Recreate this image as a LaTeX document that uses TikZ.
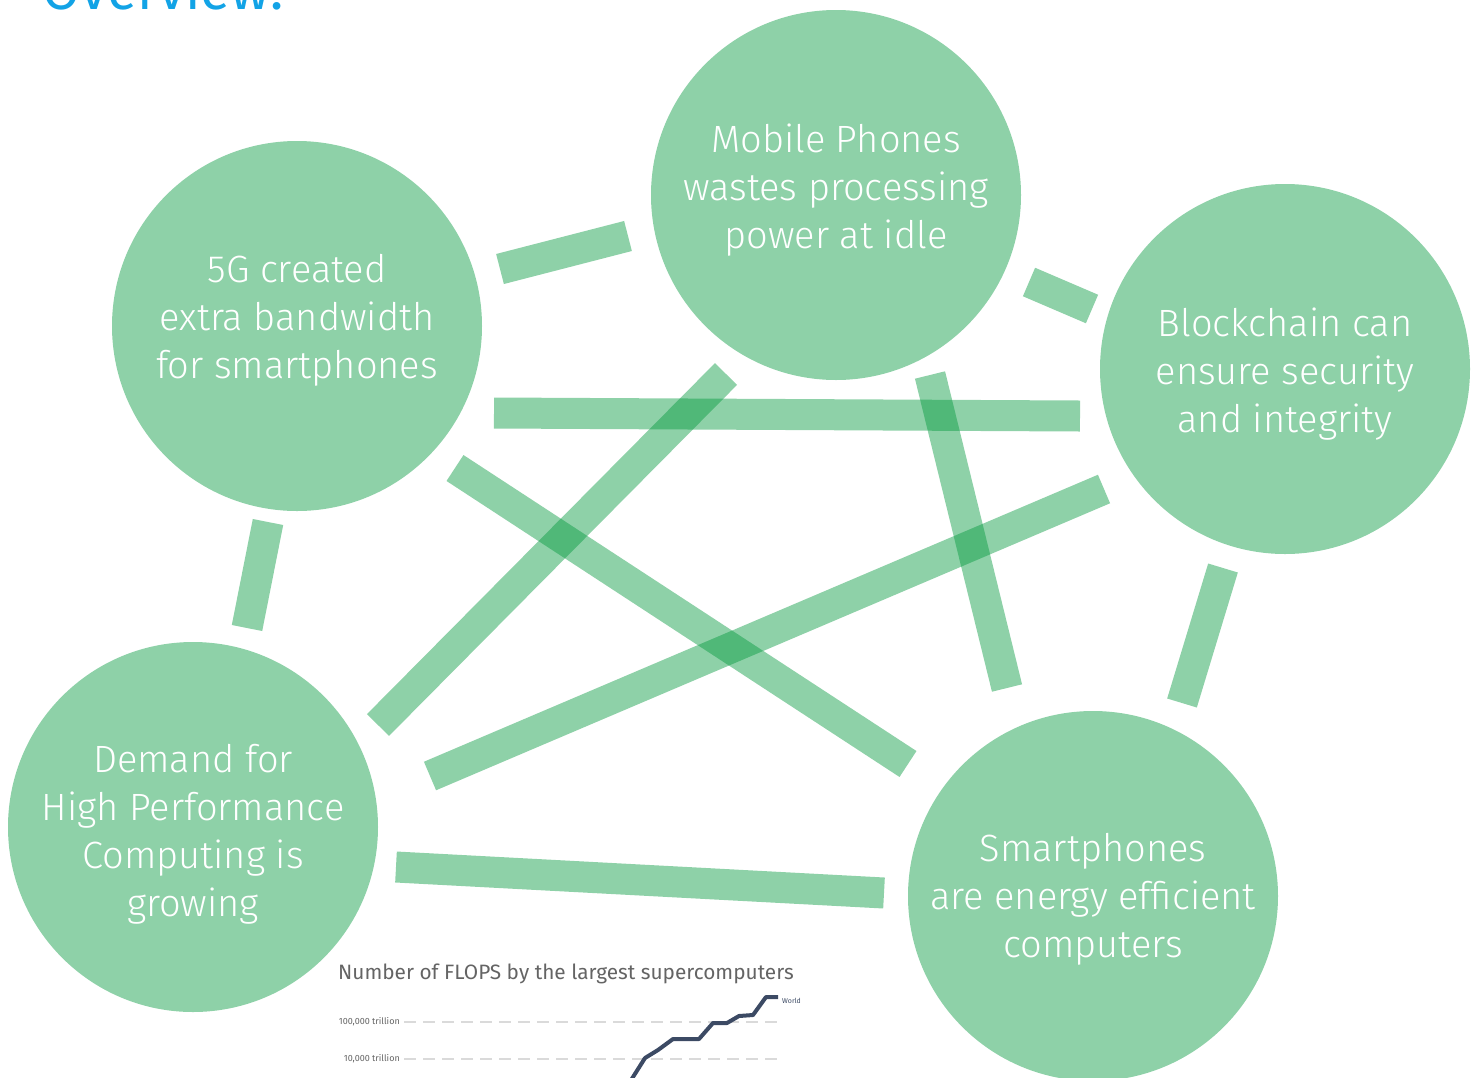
\documentclass[tikz,border=0pt]{standalone}
\usepackage{fontspec}
\setmainfont{Fira Sans Light}
\newfontfamily\chartfont{Fira Sans}
\definecolor{bubble}{RGB}{142,209,168}
\definecolor{linkgreen}{RGB}{4,153,62}
\definecolor{titleblue}{RGB}{18,163,230}
\definecolor{chartgrey}{RGB}{100,100,100}
\definecolor{gridgrey}{RGB}{218,218,218}
\definecolor{slate}{RGB}{60,74,100}
\tikzset{
  bubble/.style={circle, fill=bubble, minimum size=370pt, inner sep=0pt},
  bubbletext/.style={text=white, align=center, inner sep=0pt,
    font=\fontsize{38}{48}\selectfont},
  link/.style={draw=linkgreen, draw opacity=0.45, line width=31pt, line cap=butt},
  gridline/.style={draw=gridgrey, line width=2pt, dash pattern=on 12pt off 7pt},
  ticklabel/.style={text=chartgrey, font=\chartfont\fontsize{9}{10}\selectfont, anchor=east, inner sep=0pt},
}
\begin{document}
\begin{tikzpicture}[x=1pt, y=-1pt]
\useasboundingbox (0,0) rectangle (1481,1077);
\clip (0,0) rectangle (1481,1077);

% heading, partly above the page edge
\node[anchor=base west, inner sep=0pt, text=titleblue, font=\chartfont\fontsize{55}{55}\selectfont] (title) at (42,9) {Overview:};

% connector bars (drawn first so the circles sit on top)
\coordinate (a1) at (500,269);  \coordinate (a2) at (628,236);
\coordinate (b1) at (1029,282); \coordinate (b2) at (1092,309);
\coordinate (c1) at (494,413);  \coordinate (c2) at (1080,416);
\coordinate (d1) at (726,374);  \coordinate (d2) at (378,725);
\coordinate (e1) at (930,375);  \coordinate (e2) at (1007,688);
\coordinate (f1) at (455,468);  \coordinate (f2) at (908,764);
\coordinate (g1) at (1104,489); \coordinate (g2) at (430,776);
\coordinate (h1) at (268,522);  \coordinate (h2) at (247,628);
\coordinate (i1) at (1223,568); \coordinate (i2) at (1182,703);
\coordinate (j1) at (396,867);  \coordinate (j2) at (884,893);

\draw[link] (a1) -- (a2);
\draw[link] (b1) -- (b2);
\draw[link] (c1) -- (c2);
\draw[link] (d1) -- (d2);
\draw[link] (e1) -- (e2);
\draw[link] (f1) -- (f2);
\draw[link] (g1) -- (g2);
\draw[link] (h1) -- (h2);
\draw[link] (i1) -- (i2);
\draw[link] (j1) -- (j2);

% circles
\node[bubble] (fiveg) at (297,326) {};
\node[bubble] (mobile) at (836,195) {};
\node[bubble] (chain) at (1285,369) {};
\node[bubble] (demand) at (193,827) {};
\node[bubble] (phones) at (1093,896) {};

% circle captions
\node[bubbletext] (fivegtxt) at (297,320) {5G created\\extra bandwidth\\for smartphones};
\node[bubbletext] (mobiletxt) at (836,190) {Mobile Phones\\wastes processing\\power at idle};
\node[bubbletext] (chaintxt) at (1285,374) {Blockchain can\\ensure security\\and integrity};
\node[bubbletext] (demandtxt) at (193,834) {Demand for\\High Performance\\Computing is\\growing};
\node[bubbletext] (phonestxt) at (1093,899) {Smartphones\\are energy efficient\\computers};

% supercomputer chart
\node[anchor=base west, inner sep=0pt, text=chartgrey, font=\chartfont\fontsize{20.8}{22}\selectfont] (charttitle) at (338,979) {Number of FLOPS by the largest supercomputers};
\node[ticklabel] (t1) at (400,1022) {100,000 trillion};
\node[ticklabel] (t2) at (400,1059) {10,000 trillion};
\draw[gridline] (t1.east) ++(4,0) -- (780,1022);
\draw[gridline] (t2.east) ++(4,0) -- (780,1059);
\draw[slate, line width=4pt, line join=round]
  (624,1092) -- (633,1077) -- (645,1058) -- (658,1050) -- (673,1039) -- (699,1039)
  -- (713,1023) -- (727,1023) -- (739,1016) -- (753,1015) -- (766,997) -- (778,997);
\node[anchor=west, inner sep=0pt, text=slate, font=\chartfont\fontsize{7}{8}\selectfont] (world) at (782,1001) {World};
\end{tikzpicture}
\end{document}
